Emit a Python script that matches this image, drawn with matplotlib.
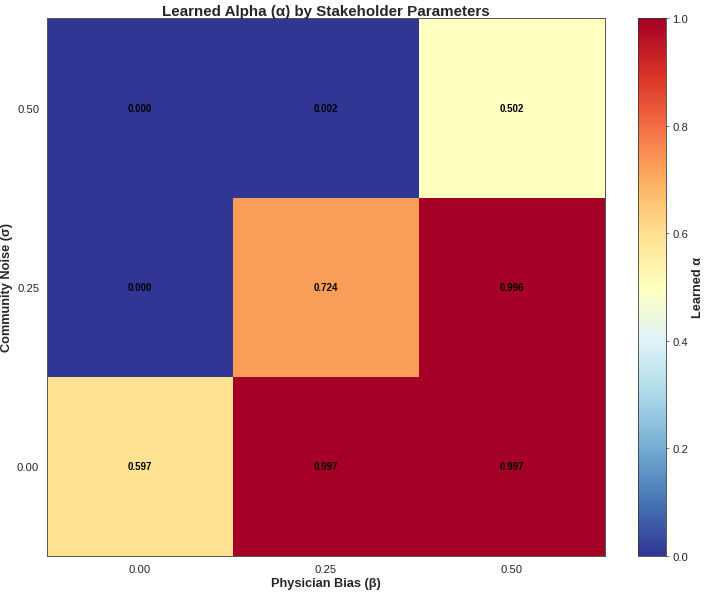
import matplotlib
matplotlib.use('Agg')
import matplotlib.pyplot as plt
import numpy as np

plt.rcParams['font.family'] = ['Liberation Sans', 'DejaVu Sans']
plt.rcParams['text.color'] = '#262626'
plt.rcParams['axes.labelcolor'] = '#262626'
plt.rcParams['xtick.color'] = '#262626'
plt.rcParams['ytick.color'] = '#262626'

# stakeholder parameter grid
betas = ['0.00', '0.25', '0.50']     # physician bias (columns)
sigmas = ['0.00', '0.25', '0.50']    # community noise (rows, bottom to top)

alpha_sigma_000 = [0.597, 0.997, 0.997]
alpha_sigma_025 = [0.000, 0.724, 0.996]
alpha_sigma_050 = [0.000, 0.002, 0.502]

grid = np.array([alpha_sigma_000, alpha_sigma_025, alpha_sigma_050])

fig = plt.figure(figsize=(10, 8.42), dpi=70.4)
ax = fig.add_axes([0.0668, 0.0607, 0.7922, 0.9073])
cax = fig.add_axes([0.906, 0.0607, 0.040, 0.9073])

im = ax.imshow(grid, cmap='RdYlBu_r', vmin=0, vmax=1, origin='lower', aspect='auto')

for i in range(len(sigmas)):
    for j in range(len(betas)):
        ax.text(j, i, f'{grid[i, j]:.3f}', ha='center', va='center',
                fontsize=10, fontweight='bold', color='black')

ax.set_xticks(range(len(betas)))
ax.set_xticklabels(betas)
ax.set_yticks(range(len(sigmas)))
ax.set_yticklabels(sigmas)
ax.tick_params(length=0, labelsize=11.5, pad=8)
for s in ax.spines.values():
    s.set_color('#555555')
    s.set_linewidth(1.0)

ax.set_xlabel('Physician Bias (β)', fontsize=13, fontweight='bold', labelpad=3)
ax.set_ylabel('Community Noise (σ)', fontsize=13, fontweight='bold')
ax.set_title('Learned Alpha (α) by Stakeholder Parameters', fontsize=15.5, fontweight='bold', pad=3)

cbar = fig.colorbar(im, cax=cax)
cbar.set_label('Learned α', fontsize=13, fontweight='bold')
cbar.ax.tick_params(labelsize=11.5, length=3, color='#555555')
cbar.outline.set_edgecolor('#333333')

fig.savefig('out.png', dpi=70.4)
